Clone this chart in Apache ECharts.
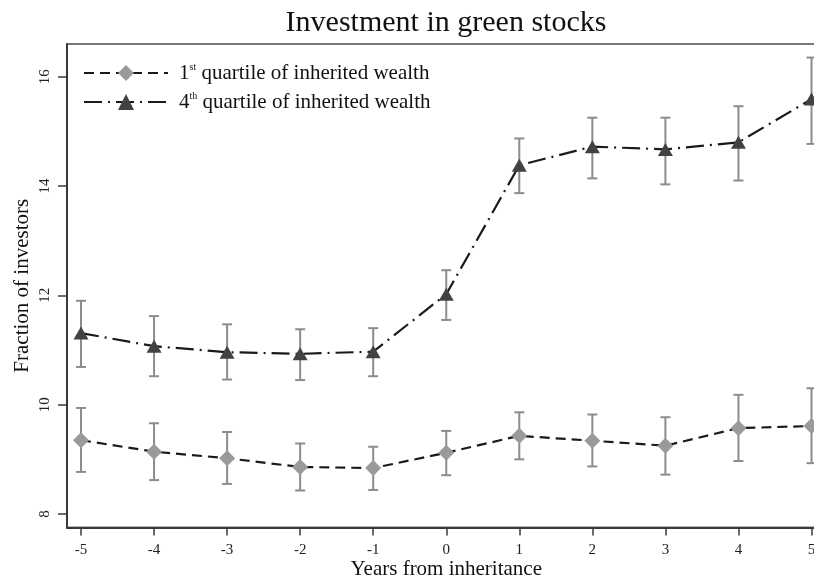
<!DOCTYPE html>
<html>
<head>
<meta charset="utf-8">
<script src="https://cdn.jsdelivr.net/npm/echarts@6/dist/echarts.min.js"></script>
<style>
html,body{margin:0;padding:0;background:#fff;}
#chart{width:814px;height:578px;}
</style>
</head>
<body>
<div id="chart"></div>
<script>
const years = [-5, -4, -3, -2, -1, 0, 1, 2, 3, 4, 5];
const q1Mean = [9.35, 9.14, 9.02, 8.86, 8.84, 9.12, 9.43, 9.34, 9.25, 9.57, 9.61];
const q1Low  = [8.77, 8.62, 8.55, 8.43, 8.44, 8.71, 9.00, 8.87, 8.72, 8.97, 8.93];
const q1High = [9.94, 9.66, 9.50, 9.29, 9.23, 9.52, 9.86, 9.82, 9.77, 10.18, 10.30];
const q4Mean = [11.31, 11.07, 10.96, 10.93, 10.97, 12.02, 14.38, 14.72, 14.67, 14.80, 15.59];
const q4Low  = [10.69, 10.52, 10.46, 10.45, 10.52, 11.55, 13.87, 14.14, 14.03, 14.10, 14.77];
const q4High = [11.90, 11.62, 11.47, 11.38, 11.40, 12.46, 14.87, 15.25, 15.25, 15.46, 16.35];
const xTicks = [-5, -4, -3, -2, -1, 0, 1, 2, 3, 4, 5];
const yTicks = [8, 10, 12, 14, 16];
const seriesNames = ['1st quartile of inherited wealth', '4th quartile of inherited wealth'];
const titleText = 'Investment in green stocks';
const xName = 'Years from inheritance';
const yName = 'Fraction of investors';

const FONT = '"Liberation Serif", "Times New Roman", serif';
const chart = echarts.init(document.getElementById('chart'), null, {renderer: 'canvas'});

function errData(lo, hi) {
  return years.map((x, i) => [x, lo[i], hi[i]]);
}
function renderErr(params, api) {
  const x = api.value(0), lo = api.value(1), hi = api.value(2);
  const p1 = api.coord([x, hi]);
  const p2 = api.coord([x, lo]);
  const w = 5;
  const st = {stroke: '#8c8c8c', lineWidth: 2};
  return {
    type: 'group',
    children: [
      {type: 'line', shape: {x1: p1[0], y1: p1[1], x2: p2[0], y2: p2[1]}, style: st},
      {type: 'line', shape: {x1: p1[0] - w, y1: p1[1], x2: p1[0] + w, y2: p1[1]}, style: st},
      {type: 'line', shape: {x1: p2[0] - w, y1: p2[1], x2: p2[0] + w, y2: p2[1]}, style: st}
    ]
  };
}

const option = {
  backgroundColor: '#fff',
  animation: false,
  title: {
    text: titleText,
    left: 441, textAlign: 'center',
    top: 3,
    textStyle: {fontFamily: FONT, fontSize: 30, fontWeight: 'normal', color: '#111'}
  },
  legend: {
    data: seriesNames,
    orient: 'vertical',
    left: 83, top: 62, padding: 0,
    itemWidth: 84, itemHeight: 20,
    itemGap: 7,
    formatter: function (name) { return name.replace(/^(\d)(st|th)/, '$1{sup|$2}'); },
    textStyle: {
      fontFamily: FONT, fontSize: 21, color: '#111', lineHeight: 22, padding: [0, 0, 0, 6],
      rich: {sup: {fontFamily: FONT, fontSize: 10, color: '#111', verticalAlign: 'top', lineHeight: 12}}
    }
  },
  grid: [
    {left: 67, top: 44, width: 758.5, height: 483.5, show: true, borderColor: '#777', borderWidth: 2,
     backgroundColor: 'transparent', containLabel: false, outerBoundsMode: 'none'}
  ],
  xAxis: {
    type: 'value',
    min: -5.1916, max: 5.1916,
    name: xName, nameLocation: 'middle', nameGap: 31, nameMoveOverlap: false,
    nameTextStyle: {fontFamily: FONT, fontSize: 21, color: '#111'},
    axisLine: {show: true, onZero: false, lineStyle: {color: '#3a3a3a', width: 2}},
    axisTick: {show: true, customValues: xTicks, length: 8, lineStyle: {color: '#3a3a3a', width: 1.5}},
    axisLabel: {customValues: xTicks, fontFamily: FONT, fontSize: 15, color: '#222', margin: 15},
    splitLine: {show: false}
  },
  yAxis: {
    type: 'value',
    min: 7.753, max: 16.598,
    name: yName, nameLocation: 'middle', nameGap: 34, nameMoveOverlap: false,
    nameTextStyle: {fontFamily: FONT, fontSize: 21, color: '#111'},
    axisLine: {show: true, onZero: false, lineStyle: {color: '#3a3a3a', width: 2}},
    axisTick: {show: true, customValues: yTicks, length: 9, lineStyle: {color: '#3a3a3a', width: 1.5}},
    axisLabel: {customValues: yTicks, rotate: 90, fontFamily: FONT, fontSize: 15, color: '#222', margin: 14},
    splitLine: {show: false}
  },
  series: [
    {
      type: 'custom', name: 'err1', renderItem: renderErr, data: errData(q1Low, q1High),
      clip: false, z: 1, encode: {x: 0, y: [1, 2]}
    },
    {
      type: 'custom', name: 'err4', renderItem: renderErr, data: errData(q4Low, q4High),
      clip: false, z: 1, encode: {x: 0, y: [1, 2]}
    },
    {
      type: 'line', name: seriesNames[0], z: 3, clip: false,
      data: years.map((x, i) => [x, q1Mean[i]]),
      symbol: 'diamond', symbolSize: 16,
      itemStyle: {color: '#9a9a9a', borderWidth: 0},
      lineStyle: {color: '#1a1a1a', width: 2.2, type: [10, 6]}
    },
    {
      type: 'line', name: seriesNames[1], z: 3, clip: false,
      data: years.map((x, i) => [x, q4Mean[i]]),
      symbol: 'triangle', symbolSize: [15, 13],
      itemStyle: {color: '#424242', borderWidth: 0},
      lineStyle: {color: '#1a1a1a', width: 2.2, type: [18, 6, 2, 6]}
    }
  ]
};
chart.setOption(option);
</script>
</body>
</html>
